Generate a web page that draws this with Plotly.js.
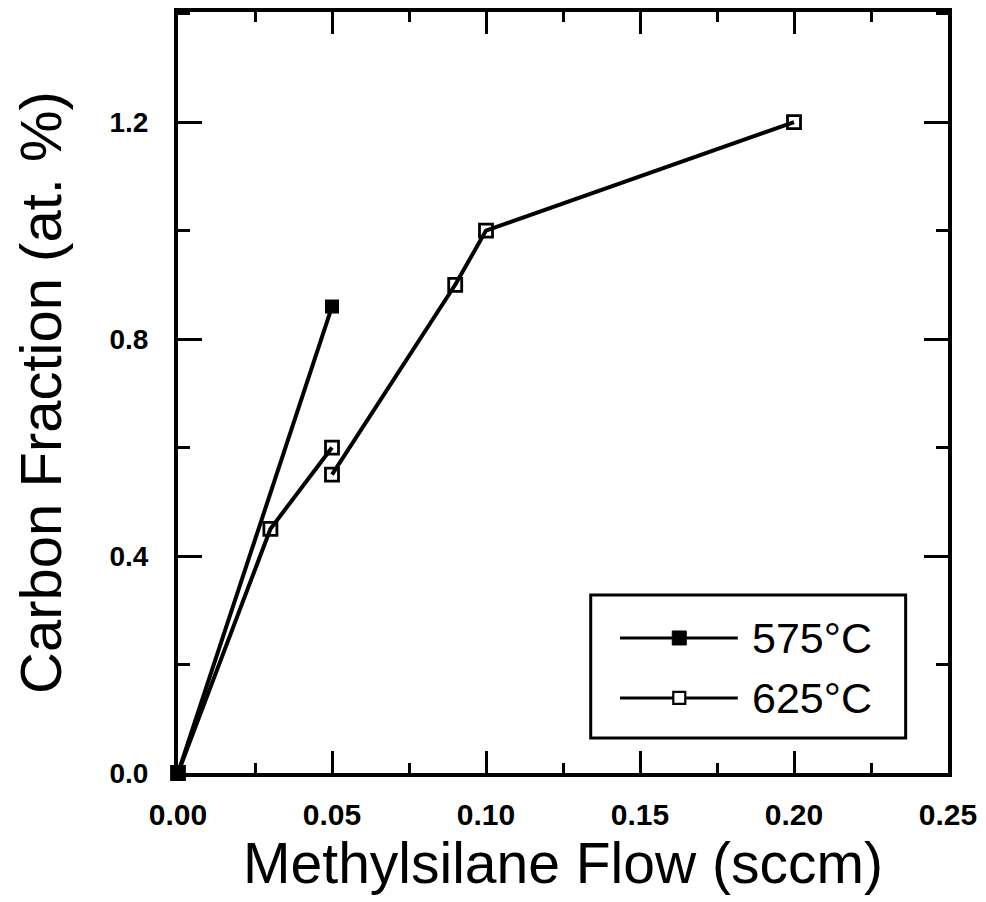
<!DOCTYPE html>
<html>
<head>
<meta charset="utf-8">
<script src="https://cdn.plot.ly/plotly-3.0.1.min.js"></script>
<style>html,body{margin:0;padding:0;background:#fff;}#chart{width:986px;height:902px;}</style>
</head>
<body>
<div id="chart"></div>
<script>
// Data
var seriesNames = ["575°C", "625°C"];
var flow575 = [0.00, 0.05];
var carbon575 = [0.00, 0.86];
// 625°C: two connected runs (gap between the two points at 0.05 sccm)
var flow625 = [0.00, 0.03, 0.05, null, 0.05, 0.09, 0.10, 0.20];
var carbon625 = [0.00, 0.45, 0.60, null, 0.55, 0.90, 1.00, 1.20];
var xTickVals = [0.00, 0.05, 0.10, 0.15, 0.20, 0.25];
var yTickVals = [0.0, 0.4, 0.8, 1.2];

var FONT = "Liberation Sans, Arial, Helvetica, sans-serif";

var trace625 = {
  x: flow625, y: carbon625, name: seriesNames[1], type: "scatter", mode: "lines+markers",
  line: {color: "#000", width: 4},
  marker: {symbol: "square-open", size: 13, color: "#000", line: {width: 2.8, color: "#000"}},
  connectgaps: false, cliponaxis: false, showlegend: false
};
var trace575 = {
  x: flow575, y: carbon575, name: seriesNames[0], type: "scatter", mode: "lines+markers",
  line: {color: "#000", width: 4},
  marker: {symbol: "square", size: 14, color: "#000", line: {width: 0}},
  cliponaxis: false, showlegend: false
};

// custom legend drawn in paper coordinates
var legRows = [0.1774, 0.0986];
var shapes = [
  {type: "rect", xref: "paper", yref: "paper", x0: 0.536, x1: 0.945, y0: 0.046, y1: 0.234,
   line: {color: "#000", width: 3}, fillcolor: "rgba(0,0,0,0)"}
];
var annotations = [];
[0, 1].forEach(function (i) {
  var yy = legRows[i];
  shapes.push({type: "line", xref: "paper", yref: "paper", x0: 0.574, x1: 0.727, y0: yy, y1: yy,
               line: {color: "#000", width: 3}});
  shapes.push({type: "rect", xref: "paper", yref: "paper", xsizemode: "pixel", ysizemode: "pixel",
               xanchor: 0.651, yanchor: yy,
               x0: i === 0 ? -7 : -6, x1: i === 0 ? 7 : 6, y0: i === 0 ? -7 : -6, y1: i === 0 ? 7 : 6,
               line: {color: "#000", width: i === 0 ? 1 : 2.2},
               fillcolor: i === 0 ? "#000" : "#fff"});
  annotations.push({xref: "paper", yref: "paper", x: 0.743, y: yy, xanchor: "left", yanchor: "middle",
                    text: seriesNames[i], showarrow: false, font: {family: FONT, size: 43, color: "#000"}});
});

var layout = {
  width: 986, height: 902,
  margin: {l: 178, r: 38, t: 12, b: 129, pad: 0},
  paper_bgcolor: "#fff", plot_bgcolor: "#fff",
  showlegend: false,
  font: {family: FONT, color: "#000"},
  xaxis: {
    range: [0, 0.25], tickvals: xTickVals, tickformat: ".2f",
    ticks: "inside", ticklen: 22, tickwidth: 3, tickcolor: "#000",
    minor: {dtick: 0.025, tick0: 0, ticks: "inside", ticklen: 10, tickwidth: 3, tickcolor: "#000"},
    showline: true, linewidth: 4, linecolor: "#000", mirror: "ticks",
    showgrid: false, zeroline: false,
    tickfont: {family: FONT, size: 30, color: "#000", weight: "bold"},
    ticklabelstandoff: 12,
    title: {text: "Methylsilane Flow (sccm)", font: {family: FONT, size: 57, color: "#000"}, standoff: 8},
    automargin: false
  },
  yaxis: {
    range: [0, 1.403], tickvals: yTickVals, tickformat: ".1f",
    ticks: "inside", ticklen: 24, tickwidth: 3, tickcolor: "#000",
    minor: {dtick: 0.2, tick0: 0, ticks: "inside", ticklen: 12, tickwidth: 3, tickcolor: "#000"},
    showline: true, linewidth: 4, linecolor: "#000", mirror: "ticks",
    showgrid: false, zeroline: false,
    tickfont: {family: FONT, size: 28, color: "#000", weight: "bold"},
    ticklabelstandoff: 20,
    title: {text: "Carbon Fraction (at. %)", font: {family: FONT, size: 58, color: "#000"}, standoff: 30},
    automargin: false
  },
  shapes: shapes,
  annotations: annotations
};

Plotly.newPlot("chart", [trace625, trace575], layout, {staticPlot: true, displayModeBar: false});
</script>
</body>
</html>
